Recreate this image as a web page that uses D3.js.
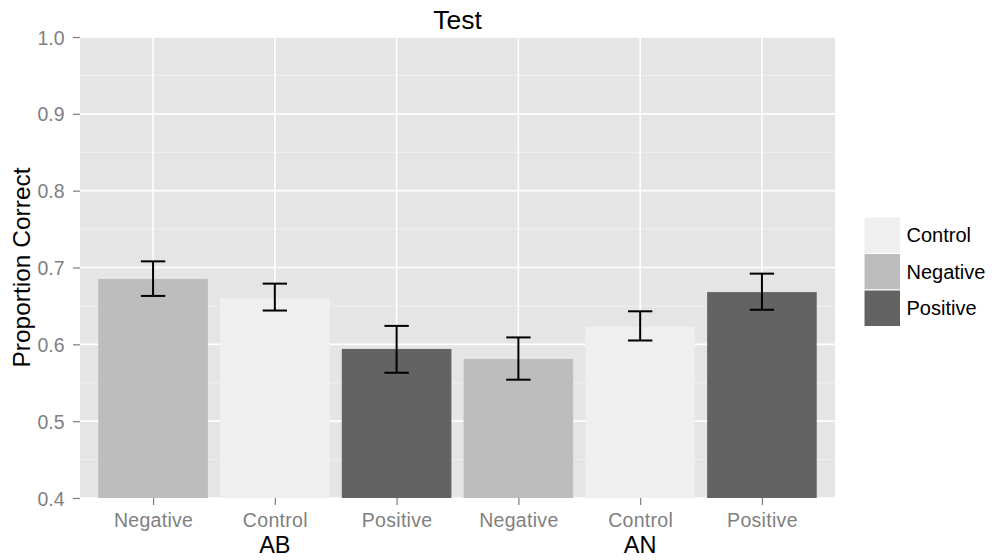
<!DOCTYPE html>
<html>
<head>
<meta charset="utf-8">
<script src="https://cdn.jsdelivr.net/npm/d3@7"></script>
<style>
  body { margin: 0; background: #fff; }
  svg { font-family: "Liberation Sans", Arial, Helvetica, sans-serif; }
</style>
</head>
<body>
<svg id="chart" width="992" height="560"></svg>
<script>
// data
var conditions = ["Negative", "Control", "Positive", "Negative", "Control", "Positive"];
var groups = ["AB", "AB", "AB", "AN", "AN", "AN"];
var groupLabels = ["AB", "AN"];
var proportion = [0.685, 0.660, 0.594, 0.581, 0.623, 0.668];
var errLow = [0.663, 0.644, 0.563, 0.554, 0.605, 0.645];
var errHigh = [0.708, 0.679, 0.624, 0.609, 0.643, 0.692];
var yTicks = [0.4, 0.5, 0.6, 0.7, 0.8, 0.9, 1.0];
var legendKeys = ["Control", "Negative", "Positive"];
var fillColors = { Control: "#efefef", Negative: "#bdbdbd", Positive: "#636363" };

var svg = d3.select("#chart"),
    margin = { top: 37, right: 157, bottom: 62, left: 80 },
    width = +svg.attr("width") - margin.left - margin.right,
    height = +svg.attr("height") - margin.top - margin.bottom;

var data = conditions.map(function(c, i) {
    return { idx: i, cond: c, group: groups[i], value: proportion[i], lo: errLow[i], hi: errHigh[i] };
});

// ggplot-like discrete scale: 0.6 units of padding either side
var x = d3.scaleLinear()
    .domain([-0.6, data.length - 1 + 0.6])
    .range([0, width]);
var step = x(1) - x(0);

var y = d3.scaleLinear()
    .domain([0.4, 1.0])
    .range([height, 0]);

var g = svg.append("g")
    .attr("transform", "translate(" + margin.left + "," + margin.top + ")");

// panel
g.append("rect")
    .attr("width", width)
    .attr("height", height)
    .attr("fill", "#e5e5e5");

// minor grid
var minor = d3.range(0.45, 1.0, 0.1);
g.selectAll(".minor")
    .data(minor)
    .enter().append("line")
    .attr("x1", 0).attr("x2", width)
    .attr("y1", function(d) { return y(d); })
    .attr("y2", function(d) { return y(d); })
    .attr("stroke", "#f2f2f2")
    .attr("stroke-width", 0.8);

// major grid
g.selectAll(".hgrid")
    .data(yTicks)
    .enter().append("line")
    .attr("x1", 0).attr("x2", width)
    .attr("y1", function(d) { return y(d); })
    .attr("y2", function(d) { return y(d); })
    .attr("stroke", "#fff")
    .attr("stroke-width", 1.6);

g.selectAll(".vgrid")
    .data(data)
    .enter().append("line")
    .attr("x1", function(d) { return x(d.idx); })
    .attr("x2", function(d) { return x(d.idx); })
    .attr("y1", 0).attr("y2", height)
    .attr("stroke", "#fff")
    .attr("stroke-width", 1.6);

// bars
g.selectAll(".bar")
    .data(data)
    .enter().append("rect")
    .attr("class", "bar")
    .attr("x", function(d) { return x(d.idx) - step * 0.45; })
    .attr("width", step * 0.9)
    .attr("y", function(d) { return y(d.value); })
    .attr("height", function(d) { return height - y(d.value); })
    .attr("fill", function(d) { return fillColors[d.cond]; });

// error bars
var cap = step * 0.1;
var eb = g.selectAll(".err")
    .data(data)
    .enter().append("g")
    .attr("class", "err")
    .attr("stroke", "#000")
    .attr("stroke-width", 2);
eb.append("line")
    .attr("x1", function(d) { return x(d.idx); })
    .attr("x2", function(d) { return x(d.idx); })
    .attr("y1", function(d) { return y(d.lo); })
    .attr("y2", function(d) { return y(d.hi); });
eb.append("line")
    .attr("x1", function(d) { return x(d.idx) - cap; })
    .attr("x2", function(d) { return x(d.idx) + cap; })
    .attr("y1", function(d) { return y(d.hi); })
    .attr("y2", function(d) { return y(d.hi); });
eb.append("line")
    .attr("x1", function(d) { return x(d.idx) - cap; })
    .attr("x2", function(d) { return x(d.idx) + cap; })
    .attr("y1", function(d) { return y(d.lo); })
    .attr("y2", function(d) { return y(d.lo); });

// y axis
var yAxis = g.append("g")
    .call(d3.axisLeft(y).tickValues(yTicks).tickFormat(d3.format(".1f")).tickSize(7).tickPadding(4));
yAxis.select(".domain").remove();
yAxis.selectAll("line").attr("stroke", "#7f7f7f").attr("stroke-width", 1.2);
yAxis.selectAll("text")
    .attr("fill", "#7f7f7f")
    .attr("font-size", "19.5px")
    .attr("x", -15.5)
    .attr("dy", "0.36em");

// x axis
var xAxis = g.append("g")
    .attr("transform", "translate(0," + height + ")")
    .call(d3.axisBottom(x).tickValues(d3.range(data.length)).tickFormat(function(i) { return conditions[i]; }).tickSize(7).tickPadding(6));
xAxis.select(".domain").remove();
xAxis.selectAll("line").attr("stroke", "#7f7f7f").attr("stroke-width", 1.2);
xAxis.selectAll("text")
    .attr("fill", "#7f7f7f")
    .attr("font-size", "19.5px")
    .attr("letter-spacing", "0.3px")
    .attr("y", 28.5)
    .attr("dy", 0);

// group labels under middle bar of each group
groupLabels.forEach(function(gl) {
    var idxs = data.filter(function(d) { return d.group === gl; }).map(function(d) { return d.idx; });
    g.append("text")
        .attr("x", x(d3.mean(idxs)))
        .attr("y", height + 54.5)
        .attr("text-anchor", "middle")
        .attr("font-size", "23.5px")
        .attr("fill", "#000")
        .text(gl);
});

// title
svg.append("text")
    .attr("x", margin.left + width / 2)
    .attr("y", 28.5)
    .attr("text-anchor", "middle")
    .attr("font-size", "26.5px")
    .text("Test");

// y title
svg.append("text")
    .attr("transform", "translate(30," + (margin.top + height / 2) + ") rotate(-90)")
    .attr("text-anchor", "middle")
    .attr("font-size", "24.5px")
    .text("Proportion Correct");

// legend
var keySize = 36.5;
var legend = svg.append("g")
    .attr("transform", "translate(864,217)");
legendKeys.forEach(function(k, i) {
    legend.append("rect")
        .attr("x", 0)
        .attr("y", i * keySize)
        .attr("width", keySize)
        .attr("height", keySize)
        .attr("fill", fillColors[k])
        .attr("stroke", "#fff")
        .attr("stroke-width", 1);
    legend.append("text")
        .attr("x", keySize + 6)
        .attr("y", i * keySize + keySize / 2)
        .attr("dy", "0.36em")
        .attr("font-size", "20px")
        .text(k);
});
</script>
</body>
</html>
